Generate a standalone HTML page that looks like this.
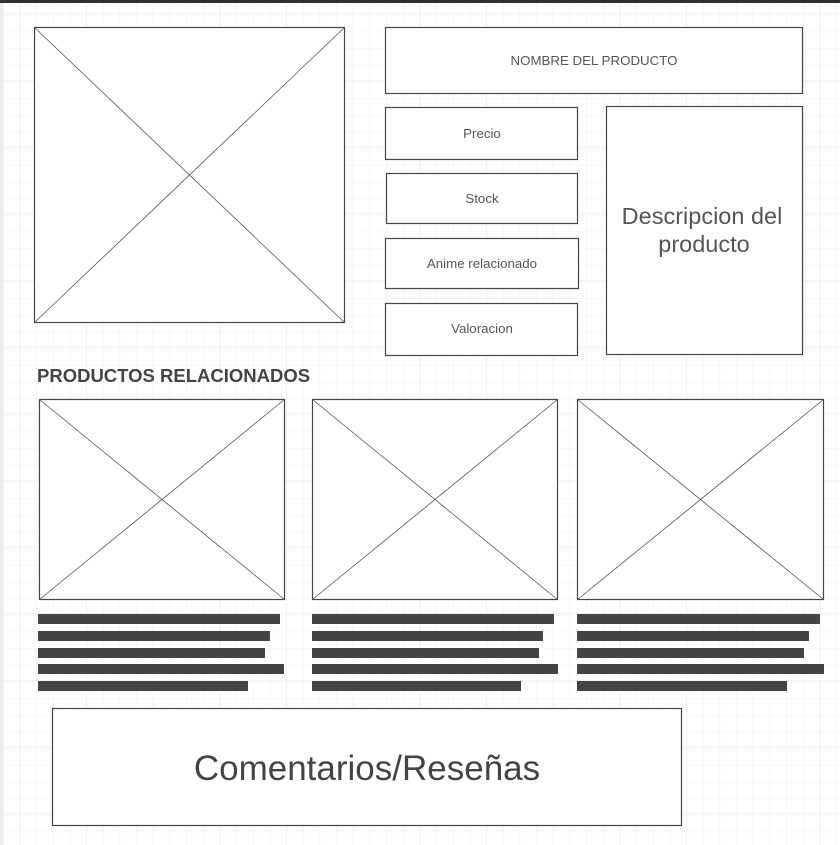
<!DOCTYPE html>
<html><head><meta charset="utf-8"><style>
html,body{margin:0;padding:0;background:#fff;}
svg{display:block;font-family:"Liberation Sans",Arial,sans-serif;}
</style></head><body>
<svg width="840" height="845" viewBox="0 0 840 845" xmlns="http://www.w3.org/2000/svg">
<defs>
<pattern id="minor" x="3" y="-1.67" width="16.667" height="16.667" patternUnits="userSpaceOnUse">
<path d="M0 0H16.667M0 0V16.667" stroke="#f0f0f0" stroke-width="1" fill="none"/>
</pattern>
<pattern id="major" x="19.7" y="13.3" width="66.667" height="66.667" patternUnits="userSpaceOnUse">
<path d="M0 0H66.667M0 0V66.667" stroke="#e6e6e6" stroke-width="1" fill="none"/>
</pattern>
</defs>
<rect width="840" height="845" fill="#fff"/>
<rect width="840" height="845" fill="url(#minor)"/>
<rect width="840" height="845" fill="url(#major)"/>
<rect x="0" y="0" width="3" height="845" fill="#ececec"/>
<rect x="0" y="0" width="840" height="3" fill="#2f3036"/>
<g stroke="#444" stroke-width="1.2" fill="#fff">
<rect x="34.5" y="27.5" width="310" height="295"/>
<rect x="385.5" y="27.5" width="417" height="66"/>
<rect x="385.5" y="107.5" width="192" height="52"/>
<rect x="386.5" y="173.5" width="191" height="50"/>
<rect x="385.5" y="238.5" width="193" height="50"/>
<rect x="385.5" y="303.5" width="192" height="52"/>
<rect x="606.5" y="106.5" width="196" height="248"/>
<rect x="39.5" y="399.5" width="245" height="200"/>
<rect x="312.5" y="399.5" width="245" height="200"/>
<rect x="577.5" y="399.5" width="246" height="200"/>
<rect x="52.5" y="708.5" width="629" height="117"/>
</g>
<g stroke="#555" stroke-width="0.8">
<line x1="34.5" y1="27.5" x2="344.5" y2="322.5"/><line x1="344.5" y1="27.5" x2="34.5" y2="322.5"/>
<line x1="39.5" y1="399.5" x2="284.5" y2="599.5"/><line x1="284.5" y1="399.5" x2="39.5" y2="599.5"/>
<line x1="312.5" y1="399.5" x2="557.5" y2="599.5"/><line x1="557.5" y1="399.5" x2="312.5" y2="599.5"/>
<line x1="577.5" y1="399.5" x2="823.5" y2="599.5"/><line x1="823.5" y1="399.5" x2="577.5" y2="599.5"/>
</g>
<g fill="#444">
<rect x="38" y="614" width="242" height="10"/><rect x="38" y="631" width="232" height="10"/><rect x="38" y="648" width="227" height="10"/><rect x="38" y="664" width="246" height="10"/><rect x="38" y="681" width="210" height="10"/>
<rect x="312" y="614" width="242" height="10"/><rect x="312" y="631" width="231" height="10"/><rect x="312" y="648" width="227" height="10"/><rect x="312" y="664" width="246" height="10"/><rect x="312" y="681" width="209" height="10"/>
<rect x="577" y="614" width="243" height="10"/><rect x="577" y="631" width="232" height="10"/><rect x="577" y="648" width="227" height="10"/><rect x="577" y="664" width="247" height="10"/><rect x="577" y="681" width="210" height="10"/>
</g>
<g fill="#555" text-anchor="middle">
<text x="594" y="65" font-size="13.3">NOMBRE DEL PRODUCTO</text>
<text x="482" y="138" font-size="13.3">Precio</text>
<text x="482" y="203" font-size="13.3">Stock</text>
<text x="482" y="268" font-size="13.3">Anime relacionado</text>
<text x="482" y="333" font-size="13.3">Valoracion</text>
<text x="702" y="224" font-size="23.5">Descripcion del</text>
<text x="704" y="252" font-size="23.5">producto</text>
<text x="367" y="780" font-size="35" fill="#444">Comentarios/Reseñas</text>
</g>
<text x="37" y="382" font-size="18.5" font-weight="bold" fill="#444">PRODUCTOS RELACIONADOS</text>
</svg>
</body></html>
